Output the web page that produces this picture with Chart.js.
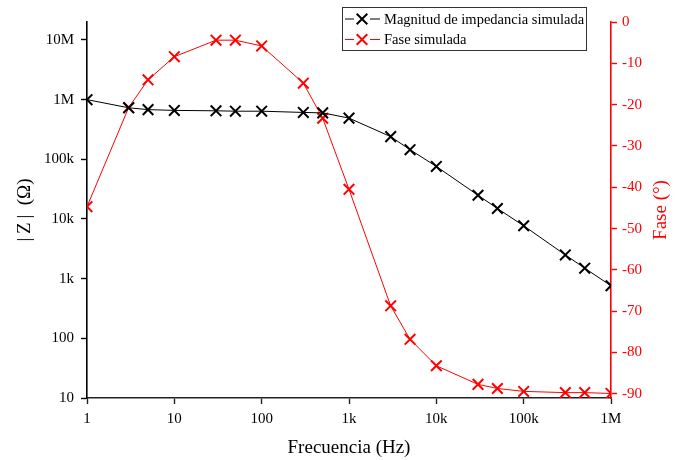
<!DOCTYPE html>
<html>
<head>
<meta charset="utf-8">
<script src="https://cdn.jsdelivr.net/npm/chart.js@4/dist/chart.umd.min.js"></script>
<style>
  html, body { margin: 0; padding: 0; background: #fff; }
  #wrap { width: 681px; height: 460px; }
</style>
</head>
<body>
<div id="wrap"><canvas id="c" width="681" height="460"></canvas></div>
<script>
// Frequency sweep (Hz)
const freqs = [1, 3, 5, 10, 30, 50, 100, 300, 500, 1e3, 3e3, 5e3, 1e4, 3e4, 5e4, 1e5, 3e5, 5e5, 1e6];
// Simulated impedance magnitude |Z| (ohm)
const magnitude = [1.0e6, 7.3e5, 6.8e5, 6.6e5, 6.5e5, 6.4e5, 6.4e5, 6.1e5, 6.0e5, 4.9e5,
                   2.4e5, 1.45e5, 7.6e4, 2.5e4, 1.5e4, 7.7e3, 2.5e3, 1.5e3, 760];
// Simulated phase (degrees)
const phase = [-44.7, -20.7, -14.0, -8.4, -4.4, -4.4, -5.8, -14.8, -23.3, -40.5,
               -68.7, -76.8, -83.2, -87.7, -88.7, -89.4, -89.7, -89.7, -89.9];

// Tick values and labels
const freqTicks = [1, 10, 100, 1e3, 1e4, 1e5, 1e6];
const freqTickLabels = ['1', '10', '100', '1k', '10k', '100k', '1M'];
const zTicks = [10, 100, 1e3, 1e4, 1e5, 1e6, 1e7];
const zTickLabels = ['10', '100', '1k', '10k', '100k', '1M', '10M'];
const phaseTicks = [0, -10, -20, -30, -40, -50, -60, -70, -80, -90];

const serif = "'Liberation Serif', 'Times New Roman', serif";
const RED = '#ff0000';

function labelFor(values, labels, v) {
  const i = values.findIndex(t => Math.abs(Math.log10(t) - Math.log10(v)) < 1e-6);
  return i >= 0 ? labels[i] : '';
}

// Boxed legend inside the upper plot region
const boxLegend = {
  id: 'boxLegend',
  afterDraw(chart) {
    const ctx = chart.ctx;
    const x0 = 342, y0 = 7, w = 244, h = 43;
    ctx.save();
    ctx.fillStyle = '#fff';
    ctx.fillRect(x0, y0, w, h);
    ctx.strokeStyle = '#333';
    ctx.lineWidth = 1;
    ctx.strokeRect(x0 + 0.5, y0 + 0.5, w, h);
    ctx.font = '14.5px ' + serif;
    ctx.textBaseline = 'middle';
    ctx.textAlign = 'left';
    chart.data.datasets.forEach((ds, i) => {
      const cy = 19 + i * 20.5;
      ctx.strokeStyle = ds.borderColor;
      ctx.lineWidth = 1;
      ctx.beginPath();
      ctx.moveTo(345, cy); ctx.lineTo(354, cy);
      ctx.moveTo(370, cy); ctx.lineTo(380, cy);
      ctx.stroke();
      ctx.lineWidth = ds.pointBorderWidth;
      Chart.helpers.drawPoint(ctx, {
        pointStyle: ds.pointStyle, radius: ds.pointRadius, borderWidth: ds.pointBorderWidth
      }, 362, cy);
      ctx.fillStyle = '#000';
      ctx.fillText(ds.label, 384, cy + 1);
    });
    ctx.restore();
  }
};

// Axis titles (both vertical titles read bottom to top)
const axisTitles = {
  id: 'axisTitles',
  afterDraw(chart) {
    const ctx = chart.ctx;
    const a = chart.chartArea;
    const midY = (a.top + a.bottom) / 2;
    ctx.save();
    ctx.font = '19px ' + serif;
    ctx.textAlign = 'center';
    ctx.textBaseline = 'middle';
    ctx.fillStyle = '#000';
    ctx.fillText('Frecuencia (Hz)', (a.left + a.right) / 2, 448);

    ctx.translate(25, midY);
    ctx.rotate(-Math.PI / 2);
    ctx.fillText('|\u2009Z\u2009|\u2002(\u03A9)', 0, 0);
    ctx.restore();

    ctx.save();
    ctx.font = '19px ' + serif;
    ctx.textAlign = 'center';
    ctx.textBaseline = 'middle';
    ctx.fillStyle = RED;
    ctx.translate(661, midY);
    ctx.rotate(-Math.PI / 2);
    ctx.fillText('Fase (\u00B0)', 0, 0);
    ctx.restore();
  }
};

new Chart(document.getElementById('c'), {
  type: 'line',
  data: {
    datasets: [
      {
        label: 'Magnitud de impedancia simulada',
        data: freqs.map((f, i) => ({ x: f, y: magnitude[i] })),
        yAxisID: 'yZ',
        borderColor: '#000',
        backgroundColor: '#000',
        borderWidth: 1,
        pointStyle: 'crossRot',
        pointRadius: 7.5,
        pointBorderWidth: 2,
        pointBorderColor: '#000',
        tension: 0
      },
      {
        label: 'Fase simulada',
        data: freqs.map((f, i) => ({ x: f, y: phase[i] })),
        yAxisID: 'yP',
        borderColor: RED,
        backgroundColor: RED,
        borderWidth: 1,
        pointStyle: 'crossRot',
        pointRadius: 7.5,
        pointBorderWidth: 2,
        pointBorderColor: RED,
        tension: 0
      }
    ]
  },
  options: {
    responsive: false,
    animation: false,
    events: [],
    layout: { padding: { top: 22, left: 0, right: 0, bottom: 0 } },
    plugins: { legend: { display: false }, tooltip: { enabled: false } },
    scales: {
      x: {
        type: 'logarithmic',
        position: 'bottom',
        min: 1,
        max: 1e6,
        afterBuildTicks(scale) { scale.ticks = freqTicks.map(v => ({ value: v, major: true })); },
        afterFit(scale) { scale.height = 62; },
        border: { display: true, color: '#222', width: 1.6 },
        grid: { drawOnChartArea: false, drawTicks: true, tickLength: 6, tickColor: '#222', tickWidth: 1.4 },
        ticks: {
          color: '#000', font: { family: serif, size: 15 }, padding: 6,
          maxRotation: 0, autoSkip: false,
          callback: v => labelFor(freqTicks, freqTickLabels, v)
        }
      },
      yZ: {
        type: 'logarithmic',
        position: 'left',
        min: 10,
        max: 2e7,
        afterBuildTicks(scale) { scale.ticks = zTicks.map(v => ({ value: v, major: true })); },
        afterFit(scale) { scale.width = 87; },
        border: { display: true, color: '#000', width: 1.6 },
        grid: { drawOnChartArea: false, drawTicks: true, tickLength: 6, tickColor: '#000', tickWidth: 1.4 },
        ticks: {
          color: '#000', font: { family: serif, size: 15 }, padding: 7, autoSkip: false,
          callback: v => labelFor(zTicks, zTickLabels, v)
        }
      },
      yP: {
        type: 'linear',
        position: 'right',
        min: -91,
        max: 0,
        afterBuildTicks(scale) { scale.ticks = phaseTicks.map(v => ({ value: v })); },
        afterFit(scale) { scale.width = 70; },
        border: { display: true, color: RED, width: 1.6 },
        grid: { drawOnChartArea: false, drawTicks: true, tickLength: 6, tickColor: RED, tickWidth: 1.4 },
        ticks: {
          color: RED, font: { family: serif, size: 15 }, padding: 5, autoSkip: false,
          callback: v => String(v)
        }
      }
    }
  },
  plugins: [boxLegend, axisTitles]
});
</script>
</body>
</html>
